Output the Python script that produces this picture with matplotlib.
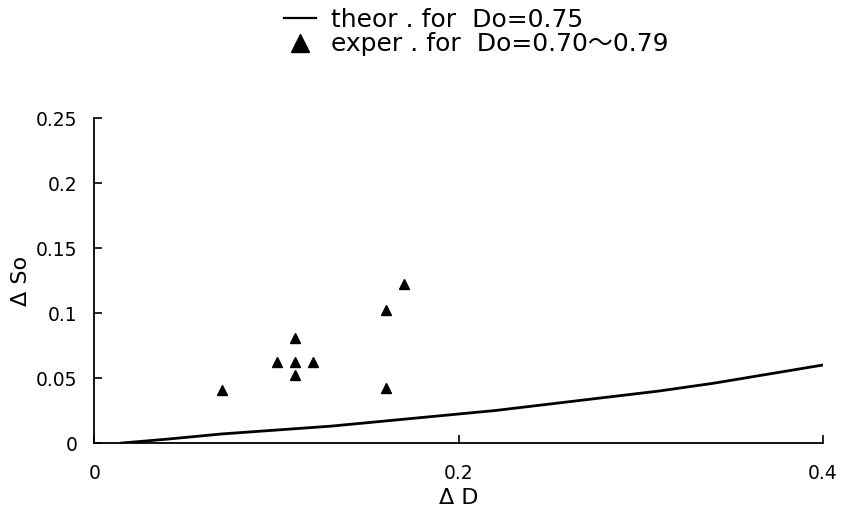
import matplotlib
matplotlib.use("Agg")
import matplotlib.pyplot as plt
from matplotlib.lines import Line2D

plt.rcParams["font.family"] = ["DejaVu Sans", "Noto Sans CJK JP"]

# theoretical curve, Do = 0.75
theor_dD = [0.015, 0.04, 0.07, 0.10, 0.13, 0.16, 0.19, 0.22, 0.25, 0.28, 0.31, 0.34, 0.37, 0.40]
theor_dSo = [0.0, 0.003, 0.007, 0.010, 0.013, 0.017, 0.021, 0.025, 0.030, 0.035, 0.040, 0.046, 0.053, 0.060]

# experimental points, Do = 0.70~0.79
exp_dD = [0.07, 0.10, 0.11, 0.11, 0.11, 0.12, 0.16, 0.16, 0.17]
exp_dSo = [0.041, 0.062, 0.081, 0.062, 0.052, 0.062, 0.102, 0.042, 0.122]

x_ticks = [0, 0.2, 0.4]
x_ticklabels = ["0", "0.2", "0.4"]
y_ticks = [0, 0.05, 0.1, 0.15, 0.2, 0.25]
y_ticklabels = ["0", "0.05", "0.1", "0.15", "0.2", "0.25"]


fig = plt.figure(figsize=(8.43, 5.11), dpi=100)
ax = fig.add_axes([0.112, 0.133, 0.864, 0.636])

ax.plot(theor_dD, theor_dSo, color="black", lw=2)
ax.plot(exp_dD, exp_dSo, ls="none", marker="^", ms=7.5, color="black")

ax.set_xlim(0, 0.4)
ax.set_ylim(0, 0.25)
ax.set_xticks(x_ticks)
ax.set_xticklabels(x_ticklabels)
ax.set_yticks(y_ticks)
ax.set_yticklabels(y_ticklabels)
ax.tick_params(direction="in", length=6, width=1.2, labelsize=13.5)
ax.tick_params(axis="x", pad=15)
ax.tick_params(axis="y", pad=12)

ax.spines["top"].set_visible(False)
ax.spines["right"].set_visible(False)
for s in ("left", "bottom"):
    ax.spines[s].set_linewidth(1.3)

ax.set_xlabel("Δ D", fontsize=16, labelpad=4)
ax.set_ylabel("Δ So", fontsize=16, labelpad=4)

handles = [
    Line2D([], [], color="black", lw=1.6),
    Line2D([], [], ls="none", marker="^", ms=13, color="black"),
]
labels = ["theor . for  Do=0.75", "exper . for  Do=0.70〜0.79"]
fig.legend(handles, labels, loc="upper left", bbox_to_anchor=(0.325, 1.004),
           frameon=False, fontsize=18, handlelength=1.3, handletextpad=0.6,
           labelspacing=0.02, borderaxespad=0.0)

fig.savefig("out.png", dpi=100)
